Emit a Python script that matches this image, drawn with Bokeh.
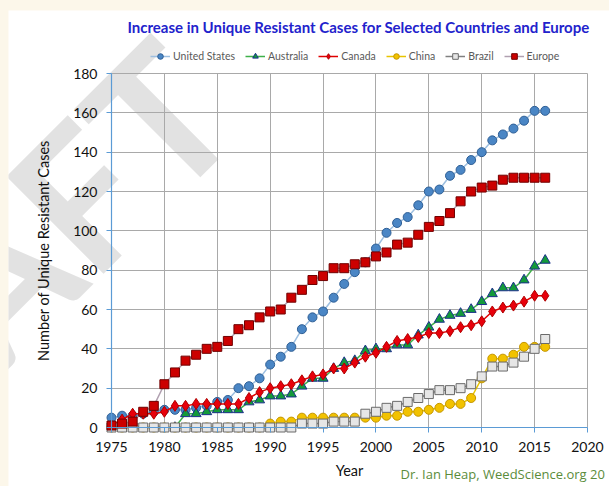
import math
from bokeh.plotting import figure
from bokeh.models import Legend, LegendItem, Label, FixedTicker, GlobalInlineStyleSheet
from bokeh.embed import file_html
from bokeh.resources import INLINE

NaN = float("nan")

years = list(range(1975, 2017))
united_states = [5, 6, 6, 7, 8, 9, 9, 9, 10, 11,
                 13, 14, 20, 21, 25, 32, 36, 41, 50, 56,
                 59, 66, 73, 79, 84, 91, 99, 104, 107, 113,
                 120, 121, 128, 131, 136, 140, 146, 149, 152, 156,
                 161, 161]
australia = [NaN, NaN, NaN, NaN, NaN, NaN, 0, 7, 7, 8,
             9, 9, 9, 13, 14, 16, 16, 17, 21, 25,
             25, 30, 33, 34, 39, 40, 40, 42, 42, 47,
             51, 55, 57, 58, 60, 64, 68, 71, 71, 75,
             82, 85]
canada = [1, 4, 7, 7, 7, 8, 11, 11, 12, 12,
          12, 12, 12, 15, 18, 20, 21, 22, 24, 26,
          27, 30, 30, 33, 36, 38, 41, 44, 45, 46,
          48, 48, 49, 51, 52, 54, 59, 61, 62, 64,
          67, 67]
china = [0, 0, 0, 0, 0, 0, 0, 0, 0, 0,
         0, 0, 0, 0, 0, 2, 3, 3, 5, 5,
         5, 5, 5, 5, 5, 5, 6, 6, 8, 8,
         9, 10, 12, 12, 15, 25, 35, 35, 37, 41,
         41, 41]
brazil = [0, 0, 0, 0, 0, 0, 0, 0, 0, 0,
          0, 0, 0, 0, 0, 0, 0, 0, 2, 2,
          2, 3, 3, 3, 7, 8, 10, 11, 13, 15,
          17, 19, 19, 20, 22, 26, 31, 31, 33, 36,
          40, 45]
europe = [1, 2, 3, 8, 11, 22, 28, 34, 37, 40,
          41, 44, 50, 52, 56, 59, 60, 66, 70, 75,
          77, 81, 81, 83, 84, 87, 89, 93, 94, 98,
          102, 105, 109, 115, 120, 122, 123, 126, 127, 127,
          127, 127]

x_ticks = [1975, 1980, 1985, 1990, 1995, 2000, 2005, 2010, 2015, 2020]
y_ticks = [0, 20, 40, 60, 80, 100, 120, 140, 160, 180]

title_text = "Increase in Unique Resistant Cases for Selected Countries and Europe"
credit_text = "Dr. Ian Heap, WeedScience.org 20"

FONT = "Lato"
AXIS_BLUE = "#5B9BD5"

# layout in pixels (figure placed at page (8, 10))
W, H = 601, 476
PX_LEFT, PX_RIGHT = 103, 579      # x of 1975 and 2020 inside figure
PX_TOP, PX_BOTTOM = 63, 417       # y of 180 and 0 inside figure
sx = (PX_RIGHT - PX_LEFT) / 45.0
sy = (PX_BOTTOM - PX_TOP) / 180.0
x0 = 1975 - PX_LEFT / sx
x1 = 1975 + (W - PX_LEFT) / sx
y1 = 180 + PX_TOP / sy
y0 = -(H - PX_BOTTOM) / sy

p = figure(width=W, height=H, x_range=(x0, x1), y_range=(y0, y1),
           output_backend="svg", toolbar_location=None,
           min_border=0, min_border_left=0, min_border_right=0,
           min_border_top=0, min_border_bottom=0)
p.margin = (10, 0, 0, 8)
p.stylesheets = [GlobalInlineStyleSheet(css="body { background-color: #FCF7EA; }")]
p.background_fill_color = "white"
p.border_fill_color = "white"
p.outline_line_color = None

p.xaxis.ticker = FixedTicker(ticks=x_ticks)
p.yaxis.ticker = FixedTicker(ticks=y_ticks)
p.xgrid.ticker = FixedTicker(ticks=x_ticks)
p.ygrid.ticker = FixedTicker(ticks=y_ticks)
p.xgrid.bounds = (1975, 2020)
p.xgrid.cross_bounds = (0, 180)
p.ygrid.bounds = (0, 180)
p.ygrid.cross_bounds = (1975, 2020)
for g in (p.xgrid, p.ygrid):
    g.grid_line_color = "#A9A9A9"
    g.grid_line_width = 1

p.xaxis.fixed_location = 0
p.yaxis.fixed_location = 1975
p.xaxis.bounds = (1975, 2020)
p.yaxis.bounds = (0, 180)

for ax in (p.xaxis, p.yaxis):
    ax.axis_line_color = AXIS_BLUE
    ax.axis_line_width = 1.2
    ax.major_tick_line_color = AXIS_BLUE
    ax.major_tick_out = 5
    ax.major_tick_in = 0
    ax.minor_tick_line_color = None
    ax.major_label_text_font = FONT
    ax.major_label_text_font_size = "14px"
    ax.major_label_text_color = "#111111"
    ax.axis_label_text_font = FONT
    ax.axis_label_text_font_size = "14.5px"
    ax.axis_label_text_font_style = "normal"
    ax.axis_label_text_color = "#111111"

p.xaxis.axis_label = "Year"
p.xaxis.major_label_standoff = 9
p.xaxis.axis_label_standoff = 7
p.yaxis.axis_label = "Number of Unique Resistant Cases"
p.yaxis.major_label_standoff = 9
p.yaxis.axis_label_standoff = 18

# watermark
p.add_layout(Label(x=1983.1, y=179.0, text="DRAFT", angle=math.pi / 4,
                   text_align="right", text_baseline="alphabetic",
                   text_font=FONT, text_font_style="bold", text_font_size="190px",
                   text_color="#E2E2E2", level="image"))

series = [
    ("United States", united_states, "#9DBFE0", "circle", "#4A86C5", "#2F5F95", 9),
    ("Australia", australia, "#3FB04A", "triangle", "#139A3A", "#1C2E8C", 10),
    ("Canada", canada, "#E00000", "diamond", "#E8000B", "#B00000", 11),
    ("China", china, "#E8C400", "circle", "#F2C200", "#C49600", 9),
    ("Brazil", brazil, "#808080", "square", "#E6E6E6", "#6A6A6A", 9),
    ("Europe", europe, "#B0A0B0", "square", "#CC0000", "#700000", 9),
]

items = []
for name, vals, lc, mk, fc, oc, sz in series:
    lr = p.line(years, vals, line_color=lc, line_width=1.5)
    sr = p.scatter(years, vals, marker=mk, size=sz, fill_color=fc, line_color=oc, line_width=1)
    items.append(LegendItem(label=name, renderers=[lr, sr]))

legend = Legend(items=items, orientation="horizontal", location=(142, H - 53),
                padding=0, margin=0, spacing=10, label_standoff=3,
                glyph_width=20, glyph_height=14, label_height=14,
                label_text_font=FONT, label_text_font_size="10.5px",
                label_text_color="#595959", border_line_color=None,
                background_fill_alpha=0)
p.add_layout(legend)

p.add_layout(Label(x=1998.35, y=203.4, text=title_text, text_align="center",
                   text_baseline="middle", text_font=FONT, text_font_style="bold",
                   text_font_size="15px", text_color="#2222CC"))
p.add_layout(Label(x=2002.32, y=-23.4, text=credit_text, text_align="left",
                   text_baseline="middle", text_font="Open Sans",
                   text_font_size="13px", text_color="#5B8C3B"))

open("out.html", "w").write(file_html(p, INLINE))
